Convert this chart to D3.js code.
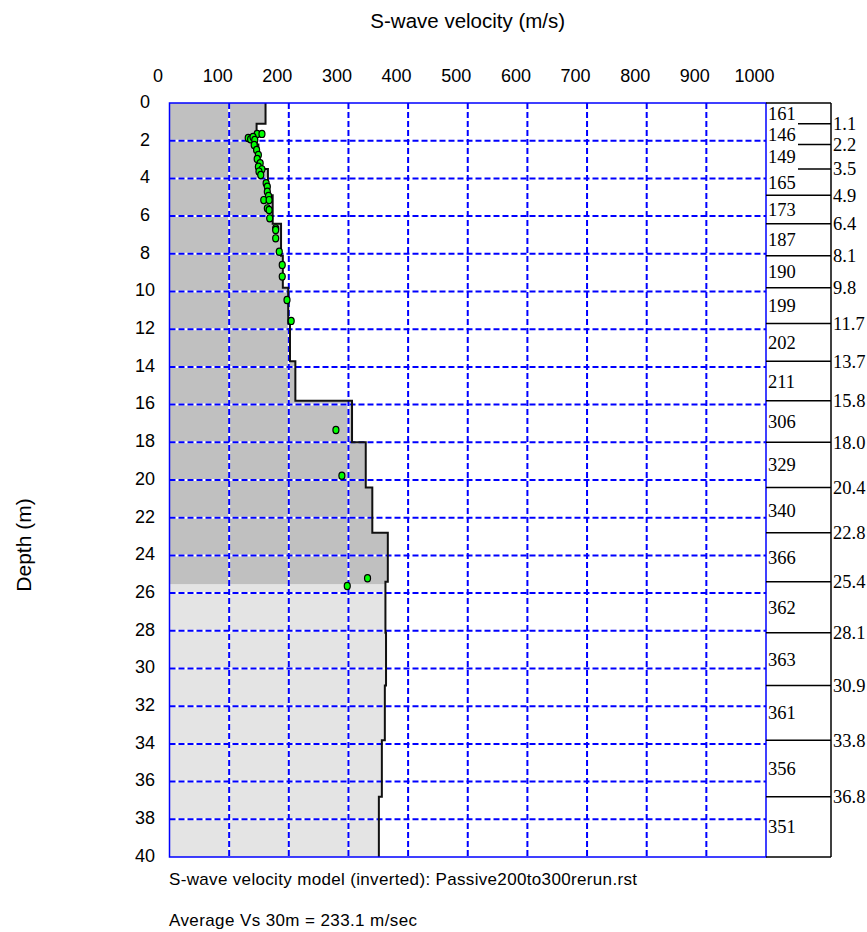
<!DOCTYPE html>
<html>
<head>
<meta charset="utf-8">
<script src="https://cdn.jsdelivr.net/npm/d3@7"></script>
<style>
  body { margin: 0; background: #fff; }
  svg text { fill: #000; }
</style>
</head>
<body>
<div id="chart"></div>
<script>
// Layer model (inverted): velocities and layer boundary depths
const layerVs = [161, 146, 149, 165, 173, 187, 190, 199, 202, 211, 306, 329, 340, 366, 362, 363, 361, 356, 351];
const layerBounds = [1.1, 2.2, 3.5, 4.9, 6.4, 8.1, 9.8, 11.7, 13.7, 15.8, 18.0, 20.4, 22.8, 25.4, 28.1, 30.9, 33.8, 36.8];
const boundLabels = ["1.1", "2.2", "3.5", "4.9", "6.4", "8.1", "9.8", "11.7", "13.7", "15.8", "18.0", "20.4", "22.8", "25.4", "28.1", "30.9", "33.8", "36.8"];

// Observed points (velocity, depth)
const pointVs = [147, 155, 132, 136, 140, 143, 142, 146, 149, 147, 152, 149, 155, 150, 153, 162, 164, 164, 166, 158, 167, 164, 167, 168, 178, 178, 178, 184, 189, 189, 197, 204, 279, 289, 332, 298];
const pointDepths = [1.64, 1.64, 1.86, 1.92, 1.80, 1.96, 2.23, 2.49, 2.76, 2.97, 3.20, 3.38, 3.52, 3.64, 3.82, 4.26, 4.44, 4.71, 4.93, 5.15, 5.15, 5.59, 5.68, 6.12, 6.65, 6.74, 7.18, 7.89, 8.59, 9.21, 10.45, 11.56, 17.35, 19.77, 25.21, 25.62];

// Axes ticks
const velocityTicks = [0, 100, 200, 300, 400, 500, 600, 700, 800, 900, 1000];
const depthTicks = [0, 2, 4, 6, 8, 10, 12, 14, 16, 18, 20, 22, 24, 26, 28, 30, 32, 34, 36, 38, 40];
const maxDepth = 40;
const resolvedDepth = 25.55;   // below this the model is shaded lighter

const W = 867, H = 932;
const plot = { left: 169.5, right: 766, top: 103, bottom: 857 };
const panelRight = 831;

const svg = d3.select("#chart").append("svg")
  .attr("width", W)
  .attr("height", H)
  .style("font-family", "'Liberation Sans', Arial, sans-serif");

const x = d3.scaleLinear().domain([0, 1000]).range([plot.left, plot.right]);
const y = d3.scaleLinear().domain([0, maxDepth]).range([plot.top, plot.bottom]);

// build step profile
let tops = [0].concat(layerBounds);
let bottoms = layerBounds.concat([maxDepth]);
let profile = [];
layerVs.forEach((v, i) => {
  profile.push({ v: v, d: tops[i] });
  profile.push({ v: v, d: bottoms[i] });
});

// clip paths for the two shaded zones
let defs = svg.append("defs");
defs.append("clipPath").attr("id", "clipTop")
  .append("rect")
  .attr("x", plot.left).attr("y", y(0))
  .attr("width", plot.right - plot.left).attr("height", y(resolvedDepth) - y(0));
defs.append("clipPath").attr("id", "clipBottom")
  .append("rect")
  .attr("x", plot.left).attr("y", y(resolvedDepth))
  .attr("width", plot.right - plot.left).attr("height", y(maxDepth) - y(resolvedDepth));

let area = d3.area()
  .x0(x(0))
  .x1(d => x(d.v))
  .y(d => y(d.d));

svg.append("path").datum(profile)
  .attr("d", area)
  .attr("fill", "#c0c0c0")
  .attr("clip-path", "url(#clipTop)");
svg.append("path").datum(profile)
  .attr("d", area)
  .attr("fill", "#e4e4e4")
  .attr("clip-path", "url(#clipBottom)");

// grid: white underlay + blue dashes
let grid = svg.append("g");
let vGrid = velocityTicks.filter(t => t > 0 && t < 1000);
let hGrid = depthTicks.filter(t => t > 0 && t < maxDepth);

["#ffffff", "#0000ff"].forEach((c, k) => {
  grid.selectAll(".v" + k).data(vGrid).enter().append("line")
    .attr("x1", d => x(d)).attr("x2", d => x(d))
    .attr("y1", plot.top).attr("y2", plot.bottom)
    .attr("stroke", c).attr("stroke-width", 2)
    .attr("stroke-dasharray", k ? "6,3" : null);
  grid.selectAll(".h" + k).data(hGrid).enter().append("line")
    .attr("x1", plot.left).attr("x2", plot.right)
    .attr("y1", d => y(d)).attr("y2", d => y(d))
    .attr("stroke", c).attr("stroke-width", 2)
    .attr("stroke-dasharray", k ? "6,3" : null);
});

// profile line
svg.append("path").datum(profile)
  .attr("d", d3.line().x(d => x(d.v)).y(d => y(d.d)))
  .attr("fill", "none")
  .attr("stroke", "#111")
  .attr("stroke-width", 2);

// observed points
svg.selectAll(".pt").data(pointVs).enter().append("ellipse")
  .attr("class", "pt")
  .attr("cx", d => x(d))
  .attr("cy", (d, i) => y(pointDepths[i]))
  .attr("rx", 3).attr("ry", 3.6)
  .attr("fill", "#00ff00")
  .attr("stroke", "#000")
  .attr("stroke-width", 1.2);

// plot border
svg.append("rect")
  .attr("x", plot.left).attr("y", plot.top)
  .attr("width", plot.right - plot.left).attr("height", plot.bottom - plot.top)
  .attr("fill", "none")
  .attr("stroke", "#0000ff")
  .attr("stroke-width", 1.5);

// axes (labels only)
let xAxis = d3.axisTop(x).tickValues(velocityTicks).tickFormat(d3.format("d"))
  .tickSize(0).tickPadding(0);
svg.append("g")
  .attr("transform", "translate(-12, 82)")
  .call(xAxis)
  .call(g => g.select(".domain").remove())
  .selectAll("text")
  .attr("font-size", 18)
  .attr("font-family", "'Liberation Sans', Arial, sans-serif")
  .attr("dy", 0);

let yAxis = d3.axisLeft(y).tickValues(depthTicks).tickFormat(d3.format("d"))
  .tickSize(0).tickPadding(0);
svg.append("g")
  .attr("transform", "translate(145, -2)")
  .call(yAxis)
  .call(g => g.select(".domain").remove())
  .selectAll("text")
  .attr("font-size", 18)
  .attr("font-family", "'Liberation Sans', Arial, sans-serif")
  .attr("text-anchor", "middle")
  .attr("dy", "0.35em");

// titles
svg.append("text")
  .attr("x", (plot.left + plot.right) / 2).attr("y", 28)
  .attr("text-anchor", "middle")
  .attr("font-size", 20.5)
  .text("S-wave velocity (m/s)");

svg.append("text")
  .attr("transform", "translate(31, 545) rotate(-90)")
  .attr("text-anchor", "middle")
  .attr("font-size", 21)
  .text("Depth (m)");

svg.append("text")
  .attr("x", 169).attr("y", 885)
  .attr("font-size", 17)
  .attr("textLength", 468)
  .attr("lengthAdjust", "spacing")
  .text("S-wave velocity model (inverted): Passive200to300rerun.rst");

svg.append("text")
  .attr("x", 169).attr("y", 926)
  .attr("font-size", 17)
  .attr("textLength", 248)
  .attr("lengthAdjust", "spacing")
  .text("Average Vs 30m = 233.1 m/sec");

// right panel: layer table
let panel = svg.append("g").attr("font-family", "'Liberation Serif', 'Times New Roman', serif");
panel.append("line")
  .attr("x1", panelRight).attr("x2", panelRight)
  .attr("y1", plot.top).attr("y2", plot.bottom)
  .attr("stroke", "#000").attr("stroke-width", 1.5);
panel.selectAll(".edge").data([0, maxDepth]).enter().append("line")
  .attr("x1", plot.right).attr("x2", panelRight)
  .attr("y1", d => y(d)).attr("y2", d => y(d))
  .attr("stroke", "#000").attr("stroke-width", 1.5);

panel.selectAll(".bnd").data(layerBounds).enter().append("line")
  .attr("x1", (d, i) => (bottoms[i + 1] - d) < 1.45 ? 798 : plot.right)
  .attr("x2", panelRight)
  .attr("y1", d => y(d)).attr("y2", d => y(d))
  .attr("stroke", "#000").attr("stroke-width", 1.5);

panel.selectAll(".vs").data(layerVs).enter().append("text")
  .attr("x", 768)
  .attr("y", (d, i) => (y(tops[i]) + y(bottoms[i])) / 2)
  .attr("dy", "0.35em")
  .attr("font-size", 18.5)
  .text(d => d);

panel.selectAll(".dl").data(layerBounds).enter().append("text")
  .attr("x", 833)
  .attr("y", d => y(d))
  .attr("dy", "0.35em")
  .attr("font-size", 18.5)
  .text((d, i) => boundLabels[i]);
</script>
</body>
</html>
